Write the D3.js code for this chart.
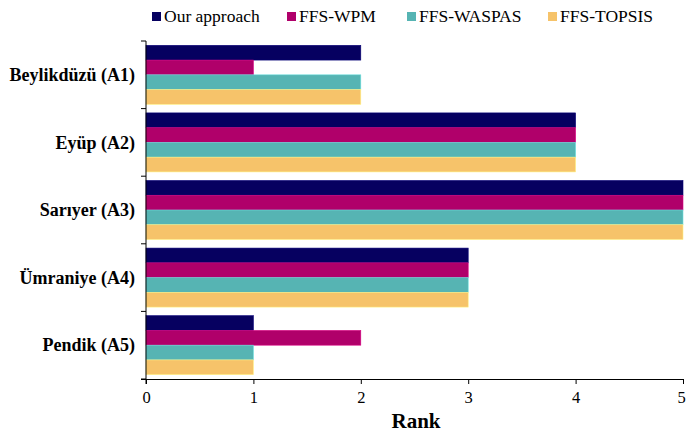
<!DOCTYPE html>
<html>
<head>
<meta charset="utf-8">
<script src="https://cdn.jsdelivr.net/npm/d3@7"></script>
<style>
  body { margin: 0; background: #fff; }
  svg text { font-family: "Liberation Serif", "Times New Roman", "DejaVu Serif", serif; }
</style>
</head>
<body>
<script>
// data
let districts = ["Beylikdüzü (A1)", "Eyüp (A2)", "Sarıyer (A3)", "Ümraniye (A4)", "Pendik (A5)"];
let methods = ["Our approach", "FFS-WPM", "FFS-WASPAS", "FFS-TOPSIS"];
let ourApproach = [2, 4, 5, 3, 1];
let ffsWpm = [1, 4, 5, 3, 2];
let ffsWaspas = [2, 4, 5, 3, 1];
let ffsTopsis = [2, 4, 5, 3, 1];
let rankTicks = [0, 1, 2, 3, 4, 5];

let series = [ourApproach, ffsWpm, ffsWaspas, ffsTopsis];
let colors = ["#060060", "#b0006a", "#56b4b3", "#f6c36a"];
let serif = '"Liberation Serif", "Times New Roman", serif';

let width = 686, height = 435;
let margin = {top: 41, right: 3, bottom: 56, left: 146};

let svg = d3.select("body").append("svg")
    .attr("width", width)
    .attr("height", height)
    .style("font-family", serif);

let x = d3.scaleLinear()
    .domain([0, 5])
    .range([margin.left, width - margin.right]);

let y = d3.scaleBand()
    .domain(districts)
    .range([margin.top, height - margin.bottom])
    .paddingInner(0.127)
    .paddingOuter(0.064);

let yBand = d3.scaleBand()
    .domain(d3.range(districts.length))
    .range([margin.top, height - margin.bottom]);

let inner = d3.scaleBand()
    .domain(methods)
    .range([0, y.bandwidth()]);

// bars
methods.forEach((m, j) => {
    svg.append("g")
        .selectAll("rect")
        .data(districts)
        .join("rect")
        .attr("x", x(0))
        .attr("y", (d, i) => y(d) + inner(m))
        .attr("width", (d, i) => x(series[j][i]) - x(0))
        .attr("height", inner.bandwidth())
        .attr("fill", colors[j])
        .attr("stroke", d3.color(colors[j]).brighter(0.6))
        .attr("stroke-width", 0.6);
});

// y axis line and boundary ticks
let bottomY = height - margin.bottom;
svg.append("line")
    .attr("x1", x(0)).attr("x2", x(0))
    .attr("y1", margin.top).attr("y2", bottomY + 5)
    .attr("stroke", "#000").attr("stroke-width", 1);

svg.append("g")
    .selectAll("line")
    .data(d3.range(districts.length + 1))
    .join("line")
    .attr("x1", x(0) - 5).attr("x2", x(0))
    .attr("y1", i => i < districts.length ? yBand(i) : bottomY)
    .attr("y2", i => i < districts.length ? yBand(i) : bottomY)
    .attr("stroke", "#000");

// category labels
svg.append("g")
    .selectAll("text")
    .data(districts)
    .join("text")
    .attr("x", 135)
    .attr("y", d => y(d) + y.bandwidth() / 2)
    .attr("dy", "0.35em")
    .attr("text-anchor", "end")
    .style("font-family", serif)
    .style("font-weight", "bold")
    .style("font-size", "18px")
    .text(d => d);

// x axis
let xAxis = d3.axisBottom(x)
    .tickValues(rankTicks)
    .tickSize(5)
    .tickFormat(d3.format("d"));

let gx = svg.append("g")
    .attr("transform", `translate(0,${bottomY})`)
    .call(xAxis)
    .attr("font-family", null);
gx.select(".domain").attr("d", `M${x(0) - 5},0.5H${x(5)}`);
gx.selectAll("text")
    .style("font-family", serif)
    .style("font-size", "16.5px")
    .attr("fill", "#000")
    .attr("dy", "0.95em")
    .attr("x", d => d === 5 ? -2 : 0);
gx.selectAll("line").attr("stroke", "#000");
gx.select(".domain").attr("stroke", "#000");

svg.append("text")
    .attr("x", 416)
    .attr("y", 428)
    .attr("text-anchor", "middle")
    .style("font-family", serif)
    .style("font-weight", "bold")
    .style("font-size", "21px")
    .text("Rank");

// legend
let legendX = [152, 287, 407, 548];
let legend = svg.append("g")
    .selectAll("g")
    .data(methods)
    .join("g")
    .attr("transform", (d, i) => `translate(${legendX[i]},0)`);

legend.append("rect")
    .attr("x", 0).attr("y", 12)
    .attr("width", 9).attr("height", 9)
    .attr("fill", (d, i) => colors[i]);

legend.append("text")
    .attr("x", 12)
    .attr("y", 22)
    .style("font-family", serif)
    .style("font-size", "17.5px")
    .text(d => d);
</script>
</body>
</html>
